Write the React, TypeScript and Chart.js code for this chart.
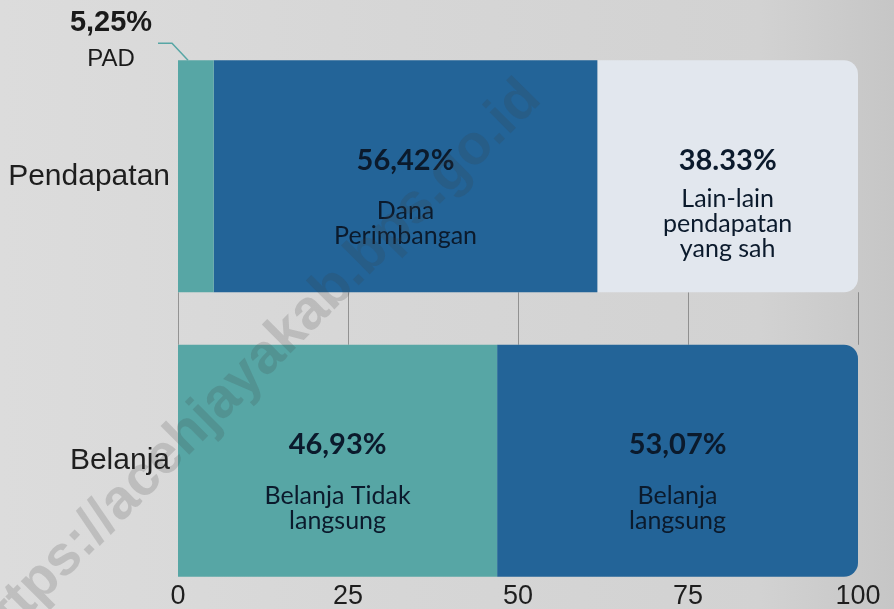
import React, { useEffect, useRef } from 'react';
import { Chart, registerables } from 'chart.js';

Chart.register(...registerables);

// ---- data ----
const categories = ['Pendapatan', 'Belanja'];
const xTickStep = 25;
const xMin = 0;
const xMax = 100;

const seg1Values = [5.25, 46.93];
const seg2Values = [56.42, 53.07];
const seg3Values = [38.33, 0];

const seg1Pct = ['5,25%', '46,93%'];
const seg2Pct = ['56,42%', '53,07%'];
const seg3Pct = ['38.33%', ''];

const seg1Names = [['PAD'], ['Belanja Tidak', 'langsung']];
const seg2Names = [['Dana', 'Perimbangan'], ['Belanja', 'langsung']];
const seg3Names = [['Lain-lain', 'pendapatan', 'yang sah'], []];

const watermark = 'https://acehjayakab.bps.go.id';

// ---- styles ----
const TEAL = '#57a6a5';
const BLUE = '#236498';
const LIGHT = '#e2e7ee';
const TEXT_DARK = '#0b1a2c';
const AXIS_TEXT = '#1e1e1e';
const GRID = 'rgba(90,90,90,0.55)';
const SANS = '"Liberation Sans", Arial, sans-serif';
const LABEL_FONT = 'Lato, "Open Sans", sans-serif';

const allValues = [seg1Values, seg2Values, seg3Values];
const lastIdx = (i: number) => {
  let last = -1;
  allValues.forEach((arr, d) => {
    if (arr[i] > 0) last = d;
  });
  return last;
};

// vertical grid lines, drawn only in the gap between the bars (behind them)
const gapGridPlugin = {
  id: 'gapGrid',
  beforeDatasetsDraw(chart: any) {
    const ctx = chart.ctx;
    const sx = chart.scales.x;
    const el0 = chart.getDatasetMeta(0).data[0];
    const el1 = chart.getDatasetMeta(0).data[1];
    if (!el0 || !el1) return;
    const y0 = el0.y + el0.height / 2;
    const y1 = el1.y - el1.height / 2;
    ctx.save();
    ctx.strokeStyle = GRID;
    ctx.lineWidth = 1;
    sx.ticks.forEach((t: any) => {
      const px = Math.round(sx.getPixelForValue(t.value)) + 0.5;
      ctx.beginPath();
      ctx.moveTo(px, y0);
      ctx.lineTo(px, y1);
      ctx.stroke();
    });
    ctx.restore();
  },
};

const segLabelPlugin = {
  id: 'segLabels',
  afterDatasetsDraw(chart: any) {
    const ctx = chart.ctx;
    ctx.save();
    chart.data.datasets.forEach((ds: any, di: number) => {
      const meta = chart.getDatasetMeta(di);
      meta.data.forEach((el: any, i: number) => {
        const v = ds.data[i];
        if (!v) return;
        const { x, y, base, height } = el.getProps(['x', 'y', 'base', 'height'], true);
        const pct = ds.pctLabels[i];
        const names: string[] = ds.nameLines[i];
        const w = Math.abs(x - base);
        if (w < 60) {
          // small segment: annotation outside, above-left with leader line
          const top = y - height / 2;
          const left = Math.min(x, base);
          ctx.strokeStyle = TEAL;
          ctx.lineWidth = 1.5;
          ctx.beginPath();
          ctx.moveTo(left - 20, top - 17);
          ctx.lineTo(left - 6, top - 17);
          ctx.lineTo(left + 10, top);
          ctx.stroke();
          ctx.fillStyle = '#1a1a1a';
          ctx.textAlign = 'center';
          ctx.textBaseline = 'middle';
          ctx.font = `bold 29px ${SANS}`;
          ctx.fillText(pct, left - 67, top - 37);
          ctx.font = `24px ${SANS}`;
          ctx.fillText(names[0], left - 67, top - 1);
          return;
        }
        const cx = (x + base) / 2;
        ctx.fillStyle = TEXT_DARK;
        ctx.textAlign = 'center';
        ctx.textBaseline = 'middle';
        ctx.font = `bold 29px ${LABEL_FONT}`;
        ctx.fillText(pct, cx, y - 16);
        ctx.font = `25px ${LABEL_FONT}`;
        const start = y + 47.5 - (names.length - 1) * 12.5;
        names.forEach((t, k) => ctx.fillText(t, cx, start + k * 25));
      });
    });
    ctx.restore();
  },
};

const xTickLabelPlugin = {
  id: 'xTickLabels',
  afterDraw(chart: any) {
    const ctx = chart.ctx;
    const sx = chart.scales.x;
    ctx.save();
    ctx.fillStyle = AXIS_TEXT;
    ctx.font = `27px ${SANS}`;
    ctx.textAlign = 'center';
    ctx.textBaseline = 'middle';
    sx.ticks.forEach((t: any) => {
      ctx.fillText(String(t.value), sx.getPixelForValue(t.value), 597);
    });
    ctx.restore();
  },
};

const watermarkPlugin = {
  id: 'watermark',
  afterDraw(chart: any) {
    const ctx = chart.ctx;
    ctx.save();
    ctx.translate(532, 90);
    ctx.rotate(-Math.PI / 4);
    ctx.font = `bold 56px ${SANS}`;
    ctx.fillStyle = 'rgba(60,60,60,0.18)';
    ctx.textAlign = 'right';
    ctx.textBaseline = 'middle';
    ctx.fillText(watermark, 0, 0);
    ctx.restore();
  },
};

export default function App() {
  const ref = useRef<HTMLCanvasElement>(null);

  useEffect(() => {
    document.body.style.margin = '0';
    if (!ref.current) return;
    const radius = (c: any) =>
      c.datasetIndex === lastIdx(c.dataIndex)
        ? { topLeft: 0, bottomLeft: 0, topRight: 14, bottomRight: 14 }
        : 0;
    const chart = new Chart(ref.current, {
      type: 'bar',
      data: {
        labels: categories,
        datasets: [
          { data: seg1Values, backgroundColor: TEAL, pctLabels: seg1Pct, nameLines: seg1Names, borderRadius: radius } as any,
          { data: seg2Values, backgroundColor: BLUE, pctLabels: seg2Pct, nameLines: seg2Names, borderRadius: radius } as any,
          { data: seg3Values, backgroundColor: LIGHT, pctLabels: seg3Pct, nameLines: seg3Names, borderRadius: radius } as any,
        ],
      },
      options: {
        indexAxis: 'y',
        responsive: false,
        animation: false,
        layout: { padding: { top: 34, right: 36, bottom: 6, left: 0 } },
        datasets: { bar: { categoryPercentage: 1, barPercentage: 0.8155 } },
        plugins: { legend: { display: false }, tooltip: { enabled: false } },
        scales: {
          x: {
            stacked: true,
            min: xMin,
            max: xMax,
            grid: { display: false, drawTicks: false },
            border: { display: false },
            ticks: { display: false, stepSize: xTickStep },
            afterFit: (s: any) => {
              s.height = 0;
              s.paddingLeft = 0;
              s.paddingRight = 0;
            },
          },
          y: {
            stacked: true,
            grid: { display: false, drawTicks: false },
            border: { display: false },
            ticks: { padding: 8, color: AXIS_TEXT, font: { family: SANS, size: 30 } },
            afterFit: (s: any) => {
              s.width = 178;
              s.paddingTop = 0;
              s.paddingBottom = 0;
            },
          },
        },
      } as any,
      plugins: [gapGridPlugin, segLabelPlugin, xTickLabelPlugin, watermarkPlugin],
    });
    return () => chart.destroy();
  }, []);

  return (
    <div
      style={{
        width: 894,
        height: 609,
        background:
          'linear-gradient(90deg, #dcdcdc 0%, #d6d6d6 45%, #d2d2d2 85%, #c6c6c6 100%)',
      }}
    >
      <canvas ref={ref} width={894} height={609} style={{ display: 'block' }} />
    </div>
  );
}
